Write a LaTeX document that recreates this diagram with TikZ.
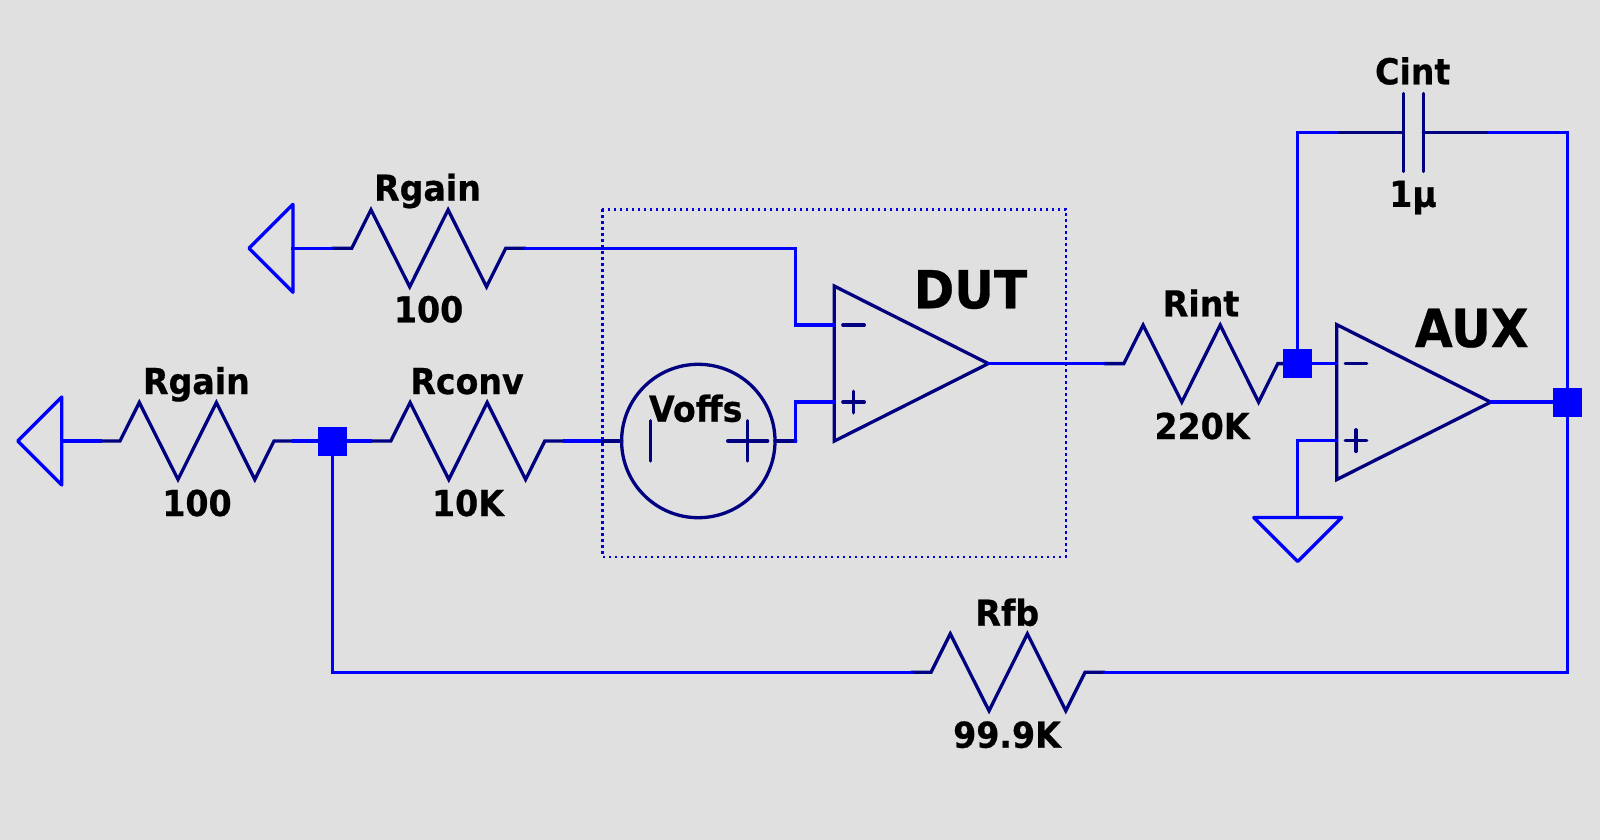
\documentclass[tikz,border=0pt]{standalone}
\usepackage{fontspec}
\setmainfont{DejaVu Sans}[FakeStretch=0.93,BoldFeatures={FakeBold=0.6}]
\pgfdeclarelayer{bg}
\pgfsetlayers{bg,main}
\definecolor{wireblue}{HTML}{0000FF}
\definecolor{partnavy}{HTML}{000080}
\definecolor{sheet}{HTML}{E0E0E0}
\tikzset{
  x=1pt,y=-1pt,
  wire/.style={draw=wireblue,line width=3.3pt,line join=miter,line cap=rect},
  part/.style={draw=partnavy,line width=3.3pt,line join=miter,line cap=round},
  gndsym/.style={draw=wireblue,line width=3.3pt,line join=round},
  junction/.style={fill=wireblue,draw=none,inner sep=0pt,outer sep=0pt,minimum width=29pt,minimum height=29pt},
  dutbox/.style={draw=wireblue!85!black,line width=2.4pt,dash pattern=on 2.4pt off 3.6pt},
  lbl/.style={anchor=base,inner sep=0pt,text=black,font=\bfseries\fontsize{35.7}{40}\selectfont},
  biglbl/.style={anchor=base,inner sep=0pt,text=black,font=\bfseries\fontsize{52.5}{60}\selectfont},
  resistor/.pic={
    \coordinate (-in) at (-97,0);
    \coordinate (-out) at (97,0);
    \draw[part] (-97,0)--(-77,0)--(-57.7,-38.5)--(-19,38.5)--(19.4,-38.5)--(57.8,38.5)--(77,0)--(97,0);
  },
  groundsym/.pic={
    \coordinate (-pin) at (0,0);
    \draw[gndsym] (-44,0)--(44,0)--(0,44)--cycle;
  },
  opampsym/.pic={
    \coordinate (-minus) at (0,-38.5);
    \coordinate (-plus) at (0,38.5);
    \coordinate (-out) at (154,0);
    \draw[part] (0,-77.5)--(154,0)--(0,77.5)--cycle;
    \draw[part] (8.5,-38.5)--(30,-38.5);
    \draw[part] (8.5,38.5)--(30,38.5) (19.2,27.7)--(19.2,49.3);
  },
  capsym/.pic={
    \coordinate (-in) at (-76.6,0);
    \coordinate (-out) at (76.6,0);
    \draw[part] (-76.6,0)--(-10,0) (10,0)--(76.6,0);
    \draw[part] (-10,-39)--(-10,39) (10,-39)--(10,39);
  }
}
\begin{document}
\begin{tikzpicture}
\useasboundingbox (0,0) rectangle (1600,840);
% junctions and the source, on the top layer
\node[junction] (jA) at (332.5,441) {};
\node[junction] (jB) at (1297.7,363.6) {};
\node[junction] (jC) at (1567.3,402.1) {};
\node[draw=partnavy,line width=3.3pt,shape=circle,inner sep=0pt,outer sep=0pt,minimum size=153.4pt] (voffs) at (698.3,441) {};
\coordinate (boxTL) at (602.3,209.3);
\coordinate (boxBR) at (1065.7,556.7);
\coordinate (vinpin) at (602.3,441);
\coordinate (jogA) at (795.7,300);
\coordinate (jogB) at (795.7,441);
\begin{pgfonlayer}{bg}
\fill[sheet] (0,0) rectangle (1600,840);
\pic (gT) [rotate=-90] at (293,248.3) {groundsym};
\pic (gL) [rotate=-90] at (61.8,441) {groundsym};
\pic (gD) at (1297.7,517.5) {groundsym};
\pic (rT) at (428.7,248.3) {resistor};
\pic (rL) at (197,441) {resistor};
\pic (rC) at (467.8,441) {resistor};
\pic (rI) at (1200.8,363.6) {resistor};
\pic (rF) at (1008,672.3) {resistor};
\pic (dut) at (834.3,363.6) {opampsym};
\pic (aux) at (1336.7,402.1) {opampsym};
\pic (cint) at (1413.3,132.5) {capsym};
% connectors
\draw[wire] (gT-pin) -- (rT-in);
\draw[wire] (gL-pin) -- (rL-in);
\draw[wire] (rL-out) -- (jA);
\draw[wire] (jA) -- (rC-in);
\draw[wire] (rC-out) -- (vinpin);
\draw[part] (vinpin) -- (voffs.west);
\draw[part] (voffs.east) -- (jogB);
\draw[wire] (jogB) |- (dut-plus);
\draw[wire] (rT-out) -| (jogA) |- (dut-minus);
\draw[wire] (dut-out) -- (rI-in);
\draw[wire] (jB) -- (aux-minus);
\draw[wire] (jB) |- (cint-in);
\draw[wire] (cint-out) -| (jC);
\draw[wire] (aux-out) -- (jC);
\draw[wire] (aux-plus) -| (gD-pin);
\draw[wire] (jC) |- (rF-out);
\draw[wire] (rF-in) -| (jA);
\end{pgfonlayer}
% source polarity marks
\draw[part] (650.3,420.7) -- (650.3,461);
\draw[part] (727.7,441) -- (767.7,441) (747.7,420.7) -- (747.7,461);
% dotted DUT outline
\draw[dutbox] (boxTL) rectangle (boxBR);
% labels
\node[lbl] (t1) at (427.5,200.7) {Rgain};
\node[lbl] (t2) at (428.6,322.3) {100};
\node[lbl] (t3) at (196.4,394) {Rgain};
\node[lbl] (t4) at (197,516) {100};
\node[lbl] (t5) at (467,394) {Rconv};
\node[lbl] (t6) at (468,516) {10K};
\node[lbl] (t7) at (695.7,421.7) {Voffs};
\node[biglbl] (t8) at (970.5,308.3) {DUT};
\node[lbl] (t9) at (1201,316.4) {Rint};
\node[lbl] (t10) at (1202,439) {220K};
\node[biglbl] (t11) at (1471.7,347) {AUX};
\node[lbl] (t12) at (1412.7,84.3) {Cint};
\node[lbl] (t13) at (1413,206.8) {1µ};
\node[lbl] (t14) at (1007.3,625.7) {Rfb};
\node[lbl] (t15) at (1007,747.7) {99.9K};
\end{tikzpicture}
\end{document}
